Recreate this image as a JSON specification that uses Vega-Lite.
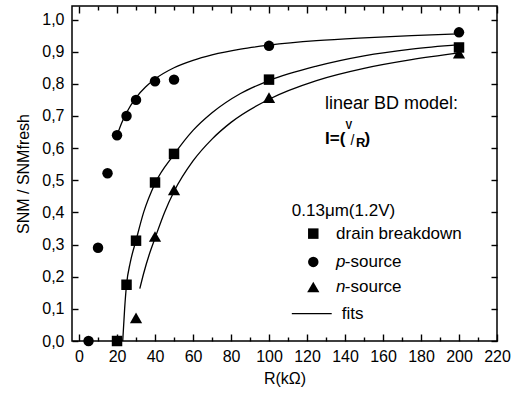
{
  "$schema": "https://vega.github.io/schema/vega-lite/v6.json",
  "width": 425,
  "height": 335,
  "autosize": "none",
  "padding": {"left": 72, "top": 6, "right": 19, "bottom": 53},
  "background": "white",
  "config": {
    "view": {"stroke": "black", "strokeWidth": 1.5},
    "font": "Liberation Sans",
    "axis": {"domain": false, "tickColor": "black", "tickWidth": 1.4, "labelColor": "black", "titleColor": "black", "labelFont": "Liberation Sans", "titleFont": "Liberation Sans", "labelFontSize": 16, "titleFontSize": 16, "titleFontWeight": "normal", "grid": false, "labelOverlap": false, "labelBound": false, "labelFlush": false}
  },
  "datasets": {
    "points": [
      {"series": "drain breakdown", "R": 20, "v": 0},
      {"series": "drain breakdown", "R": 25, "v": 0.175},
      {"series": "drain breakdown", "R": 30, "v": 0.312},
      {"series": "drain breakdown", "R": 40, "v": 0.493},
      {"series": "drain breakdown", "R": 50, "v": 0.582},
      {"series": "drain breakdown", "R": 100, "v": 0.813},
      {"series": "drain breakdown", "R": 200, "v": 0.913},
      {"series": "p-source", "R": 5, "v": 0},
      {"series": "p-source", "R": 10, "v": 0.29},
      {"series": "p-source", "R": 15, "v": 0.522},
      {"series": "p-source", "R": 20, "v": 0.64},
      {"series": "p-source", "R": 25, "v": 0.70},
      {"series": "p-source", "R": 30, "v": 0.75},
      {"series": "p-source", "R": 40, "v": 0.808},
      {"series": "p-source", "R": 50, "v": 0.813},
      {"series": "p-source", "R": 100, "v": 0.918},
      {"series": "p-source", "R": 200, "v": 0.96},
      {"series": "n-source", "R": 30, "v": 0.072},
      {"series": "n-source", "R": 40, "v": 0.325},
      {"series": "n-source", "R": 50, "v": 0.47},
      {"series": "n-source", "R": 100, "v": 0.757},
      {"series": "n-source", "R": 200, "v": 0.895}
    ],
    "fits": [
      {"series": "drain breakdown", "R": 23, "v": 0},
      {"series": "drain breakdown", "R": 24, "v": 0.1},
      {"series": "drain breakdown", "R": 25, "v": 0.175},
      {"series": "drain breakdown", "R": 27, "v": 0.245},
      {"series": "drain breakdown", "R": 30, "v": 0.313},
      {"series": "drain breakdown", "R": 34, "v": 0.4},
      {"series": "drain breakdown", "R": 40, "v": 0.49},
      {"series": "drain breakdown", "R": 50, "v": 0.58},
      {"series": "drain breakdown", "R": 60, "v": 0.655},
      {"series": "drain breakdown", "R": 70, "v": 0.71},
      {"series": "drain breakdown", "R": 85, "v": 0.77},
      {"series": "drain breakdown", "R": 100, "v": 0.81},
      {"series": "drain breakdown", "R": 125, "v": 0.855},
      {"series": "drain breakdown", "R": 150, "v": 0.887},
      {"series": "drain breakdown", "R": 175, "v": 0.908},
      {"series": "drain breakdown", "R": 200, "v": 0.922},
      {"series": "p-source", "R": 20, "v": 0.64},
      {"series": "p-source", "R": 22.5, "v": 0.679},
      {"series": "p-source", "R": 25, "v": 0.71},
      {"series": "p-source", "R": 30, "v": 0.757},
      {"series": "p-source", "R": 35, "v": 0.79},
      {"series": "p-source", "R": 40, "v": 0.815},
      {"series": "p-source", "R": 50, "v": 0.85},
      {"series": "p-source", "R": 60, "v": 0.873},
      {"series": "p-source", "R": 70, "v": 0.89},
      {"series": "p-source", "R": 85, "v": 0.908},
      {"series": "p-source", "R": 100, "v": 0.92},
      {"series": "p-source", "R": 125, "v": 0.934},
      {"series": "p-source", "R": 150, "v": 0.943},
      {"series": "p-source", "R": 175, "v": 0.95},
      {"series": "p-source", "R": 200, "v": 0.955},
      {"series": "n-source", "R": 32, "v": 0.163},
      {"series": "n-source", "R": 34, "v": 0.21},
      {"series": "n-source", "R": 37, "v": 0.27},
      {"series": "n-source", "R": 40, "v": 0.32},
      {"series": "n-source", "R": 45, "v": 0.4},
      {"series": "n-source", "R": 50, "v": 0.465},
      {"series": "n-source", "R": 60, "v": 0.56},
      {"series": "n-source", "R": 70, "v": 0.628},
      {"series": "n-source", "R": 80, "v": 0.68},
      {"series": "n-source", "R": 100, "v": 0.752},
      {"series": "n-source", "R": 125, "v": 0.81},
      {"series": "n-source", "R": 150, "v": 0.848},
      {"series": "n-source", "R": 175, "v": 0.875},
      {"series": "n-source", "R": 200, "v": 0.896}
    ],
    "legendMarks": [
      {"series": "drain breakdown", "R": 123.3, "v": 0.334},
      {"series": "p-source", "R": 123.3, "v": 0.246},
      {"series": "n-source", "R": 123.3, "v": 0.168}
    ],
    "legendLine": [
      {"R": 112, "v": 0.0853},
      {"R": 133, "v": 0.0853}
    ],
    "texts": [
      {"t": "0.13μm(1.2V)", "R": 112, "v": 0.4045, "size": 17},
      {"t": "drain breakdown", "R": 135.3, "v": 0.334, "size": 17},
      {"t": "-source", "R": 139.9, "v": 0.246, "size": 17},
      {"t": "-source", "R": 139.9, "v": 0.168, "size": 17},
      {"t": "fits", "R": 138.3, "v": 0.0853, "size": 17},
      {"t": "linear BD model:", "R": 129.5, "v": 0.7365, "size": 18}
    ],
    "italics": [
      {"t": "p", "R": 135.3, "v": 0.246},
      {"t": "n", "R": 135.3, "v": 0.168}
    ],
    "formulaBold": [
      {"t": "I=(", "R": 129.5, "v": 0.612, "size": 17},
      {"t": "V", "R": 140.2, "v": 0.658, "size": 10},
      {"t": "R", "R": 145.8, "v": 0.604, "size": 13},
      {"t": ")", "R": 150.3, "v": 0.612, "size": 17}
    ],
    "formulaNormal": [
      {"t": "/", "R": 142.9, "v": 0.609}
    ]
  },
  "resolve": {"axis": {"x": "independent", "y": "independent"}},
  "layer": [
    {
      "data": {"name": "fits"},
      "mark": {"type": "line", "interpolate": "monotone", "color": "black", "strokeWidth": 1.3},
      "encoding": {
        "x": {"field": "R", "type": "quantitative", "scale": {"domain": [-3.7, 220], "nice": false, "zero": false},
          "axis": {"orient": "bottom", "values": [0, 20, 40, 60, 80, 100, 120, 140, 160, 180, 200, 220], "offset": -7, "tickSize": 7, "labelPadding": 7, "title": "R(kΩ)", "titlePadding": 6}},
        "y": {"field": "v", "type": "quantitative", "scale": {"domain": [0, 1.042], "nice": false},
          "axis": {"orient": "left", "values": [0, 0.1, 0.2, 0.3, 0.4, 0.5, 0.6, 0.7, 0.8, 0.9, 1.0], "offset": -6, "tickSize": 6, "labelPadding": 8, "labelExpr": "replace(format(datum.value, '.1f'), '.', ',')", "title": "SNM / SNMfresh", "titlePadding": 10}},
        "detail": {"field": "series"}
      }
    },
    {
      "data": {"name": "points"},
      "transform": [{"filter": "datum.series !== 'n-source'"}],
      "mark": {"type": "point", "filled": true, "color": "black", "opacity": 1, "size": 110},
      "encoding": {
        "x": {"field": "R", "type": "quantitative",
          "axis": {"orient": "top", "values": [0, 20, 40, 60, 80, 100, 120, 140, 160, 180, 200, 220], "offset": -7, "tickSize": 7, "labels": false, "title": null}},
        "y": {"field": "v", "type": "quantitative",
          "axis": {"orient": "right", "values": [0, 0.1, 0.2, 0.3, 0.4, 0.5, 0.6, 0.7, 0.8, 0.9, 1.0], "offset": -6, "tickSize": 6, "labels": false, "title": null}},
        "shape": {"field": "series", "type": "nominal", "scale": {"domain": ["drain breakdown", "p-source", "n-source"], "range": ["square", "circle", "triangle-up"]}, "legend": null}
      }
    },
    {
      "data": {"name": "points"},
      "transform": [{"filter": "datum.series === 'n-source'"}],
      "mark": {"type": "point", "filled": true, "color": "black", "opacity": 1, "size": 150},
      "encoding": {
        "x": {"field": "R", "type": "quantitative", "axis": null},
        "y": {"field": "v", "type": "quantitative", "axis": null},
        "shape": {"field": "series", "type": "nominal", "legend": null}
      }
    },
    {
      "data": {"name": "legendMarks"},
      "transform": [{"filter": "datum.series !== 'n-source'"}],
      "mark": {"type": "point", "filled": true, "color": "black", "opacity": 1, "size": 110},
      "encoding": {
        "x": {"field": "R", "type": "quantitative",
          "axis": {"orient": "bottom", "values": [10, 30, 50, 70, 90, 110, 130, 150, 170, 190, 210], "offset": -4, "tickSize": 4, "labels": false, "title": null}},
        "y": {"field": "v", "type": "quantitative", "axis": null},
        "shape": {"field": "series", "type": "nominal", "legend": null}
      }
    },
    {
      "data": {"name": "legendMarks"},
      "transform": [{"filter": "datum.series === 'n-source'"}],
      "mark": {"type": "point", "filled": true, "color": "black", "opacity": 1, "size": 150},
      "encoding": {
        "x": {"field": "R", "type": "quantitative", "axis": null},
        "y": {"field": "v", "type": "quantitative", "axis": null},
        "shape": {"field": "series", "type": "nominal", "legend": null}
      }
    },
    {
      "data": {"name": "legendLine"},
      "mark": {"type": "line", "color": "black", "strokeWidth": 1.3},
      "encoding": {
        "x": {"field": "R", "type": "quantitative",
          "axis": {"orient": "top", "values": [10, 30, 50, 70, 90, 110, 130, 150, 170, 190, 210], "offset": -4, "tickSize": 4, "labels": false, "title": null}},
        "y": {"field": "v", "type": "quantitative", "axis": null}
      }
    },
    {
      "data": {"name": "texts"},
      "mark": {"type": "text", "align": "left", "baseline": "middle", "color": "black", "font": "Liberation Sans"},
      "encoding": {
        "x": {"field": "R", "type": "quantitative", "axis": null},
        "y": {"field": "v", "type": "quantitative", "axis": null},
        "text": {"field": "t"},
        "size": {"field": "size", "type": "quantitative", "scale": null}
      }
    },
    {
      "data": {"name": "italics"},
      "mark": {"type": "text", "align": "left", "baseline": "middle", "fontSize": 17, "fontStyle": "italic", "color": "black", "font": "Liberation Sans"},
      "encoding": {
        "x": {"field": "R", "type": "quantitative", "axis": null},
        "y": {"field": "v", "type": "quantitative", "axis": null},
        "text": {"field": "t"}
      }
    },
    {
      "data": {"name": "formulaBold"},
      "mark": {"type": "text", "align": "left", "baseline": "alphabetic", "fontWeight": "bold", "color": "black", "font": "Liberation Sans"},
      "encoding": {
        "x": {"field": "R", "type": "quantitative", "axis": null},
        "y": {"field": "v", "type": "quantitative", "axis": null},
        "text": {"field": "t"},
        "size": {"field": "size", "type": "quantitative", "scale": null}
      }
    },
    {
      "data": {"name": "formulaNormal"},
      "mark": {"type": "text", "align": "left", "baseline": "alphabetic", "fontSize": 14, "color": "black", "font": "Liberation Sans"},
      "encoding": {
        "x": {"field": "R", "type": "quantitative", "axis": null},
        "y": {"field": "v", "type": "quantitative", "axis": null},
        "text": {"field": "t"}
      }
    }
  ]
}
